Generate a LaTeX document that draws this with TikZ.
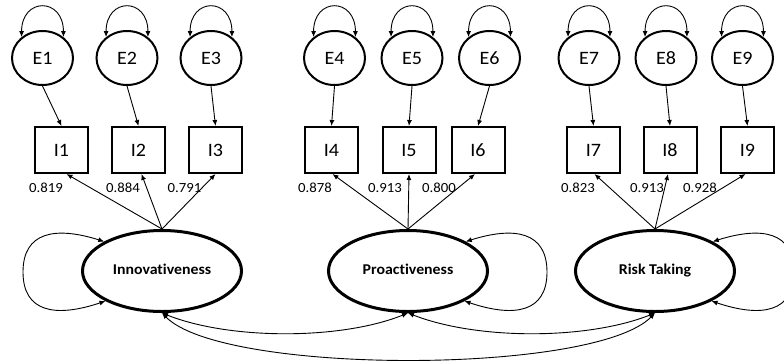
\documentclass[tikz,border=0pt]{standalone}
\usepackage{fontspec}
\setmainfont{Carlito}[FakeStretch=1.06,Ligatures=NoCommon]
\usetikzlibrary{arrows.meta,shapes.geometric}
\begin{document}
\begin{tikzpicture}[x=1bp,y=-1bp,
  err/.style={ellipse,draw,line width=2bp,inner sep=0pt,minimum width=61bp,minimum height=54bp,
    text height=12.5bp,text depth=0pt,font=\fontsize{19}{21}\selectfont},
  ind/.style={rectangle,draw,line width=2bp,inner sep=0pt,minimum width=53bp,minimum height=46bp,
    text height=12.5bp,text depth=0pt,font=\fontsize{19}{21}\selectfont},
  lat/.style={ellipse,draw,line width=3bp,inner sep=0pt,minimum width=159bp,minimum height=81bp,
    text height=10bp,text depth=3bp,font=\bfseries\fontsize{15}{17}\selectfont},
  load/.style={font=\fontsize{14}{16}\selectfont,inner sep=0pt,text height=9bp,text depth=0pt},
  tip/.tip={Latex[length=6bp,width=5bp]},
  arr/.style={line width=0.9bp,-tip},
  dbl/.style={line width=0.9bp,tip-tip},
]
\useasboundingbox (0,0) rectangle (784,362);
\clip (0,0) rectangle (784,362);

% error terms
\foreach \n/\x in {1/42.5,2/127,3/211,4/334.5,5/412,6/489.5,7/589,8/666,9/742.5}
  \node[err] (E\n) at (\x,58) {E\n};
% indicators
\foreach \n/\x in {1/61.5,2/138.5,3/215.5,4/331.5,5/409,6/478,7/593.5,8/670,9/747.5}
  \node[ind] (I\n) at (\x,150) {I\n};
% latent factors
\node[lat] (Inn) at (162,271) {Innovativeness};
\node[lat] (Pro) at (408,271) {Proactiveness};
\node[lat] (Ris) at (655,271) {Risk Taking};

% error variances and error paths
\foreach \n in {1,...,9}{
  \draw[dbl] (E\n.135) .. controls +(0,-40) and +(0,-40) .. (E\n.45);
  \draw[arr] (E\n.south) -- (I\n.north);
}

% factor loadings
\draw[arr] (Inn.north) -- ([xshift=5bp]I1.south);
\draw[arr] (Inn.north) -- ([xshift=3bp]I2.south);
\draw[arr] (Inn.north) -- (I3.south);
\draw[arr] (Pro.north) -- ([xshift=1bp]I4.south);
\draw[arr] (Pro.north) -- (I5.south);
\draw[arr] (Pro.north) -- ([xshift=-3bp]I6.south);
\draw[arr] (Ris.north) -- ([xshift=1bp]I7.south);
\draw[arr] (Ris.north) -- ([xshift=-2bp]I8.south);
\draw[arr] (Ris.north) -- ([xshift=-2bp]I9.south);

\node[load] (l1) at (46,188) {0.819};
\node[load] (l2) at (123,188) {0.884};
\node[load] (l3) at (184.5,188) {0.791};
\node[load] (l4) at (315,188) {0.878};
\node[load] (l5) at (385,188) {0.913};
\node[load] (l6) at (439,188) {0.800};
\node[load] (l7) at (578,188) {0.823};
\node[load] (l8) at (647,188) {0.913};
\node[load] (l9) at (700,188) {0.928};

% factor variances
\coordinate (innL) at (23,272);
\coordinate (proR) at (547,272);
\coordinate (risR) at (794,272);
\draw[dbl] (Inn.153) .. controls (55,226) and (23,232) .. (innL) .. controls (23,312) and (55,318) .. (Inn.208);
\draw[dbl] (Pro.27) .. controls (515,226) and (547,232) .. (proR) .. controls (547,312) and (515,318) .. (Pro.332);
\draw[dbl] (Ris.27) .. controls (762,226) and (794,232) .. (risR) .. controls (794,312) and (762,318) .. (Ris.332);

% factor covariances
\draw[dbl] (Inn.south) .. controls (230,340) and (341,340) .. (Pro.south);
\draw[dbl] (Pro.south) .. controls (477,340) and (587,340) .. (Ris.south);
\draw[dbl] (Inn.south) .. controls (223,375) and (594,375) .. (Ris.south);
\end{tikzpicture}
\end{document}
